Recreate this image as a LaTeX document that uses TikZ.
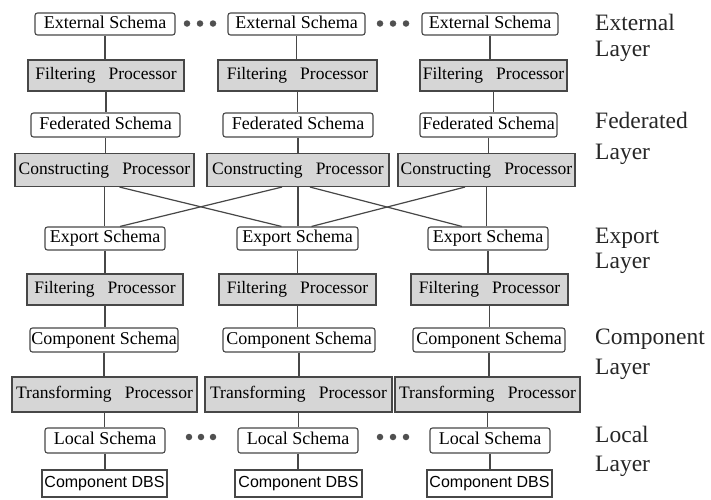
\documentclass[tikz,border=0pt]{standalone}
\usepackage{fontspec}
\setmainfont{Liberation Serif}
\newfontfamily\boxserif{Liberation Serif}
\newfontfamily\dbsfont{Liberation Sans}
\usetikzlibrary{calc}
\definecolor{edge}{HTML}{474747}
\definecolor{procfill}{HTML}{D6D6D6}
\definecolor{dotcol}{HTML}{505050}
% wider gap between the words of a processor name
\newcommand\procgap{\hspace{0.75em}}
\begin{document}
\begin{tikzpicture}[x=1pt,y=-1pt,
  box/.style={draw=edge, line width=1.1pt, inner sep=0pt, text height=12.5pt, text depth=4pt,
    font=\boxserif\fontsize{17.5}{20}\selectfont},
  schema/.style={box, fill=white, rounded corners=2.5pt, font=\boxserif\fontsize{18}{20}\selectfont},
  proc/.style={box, fill=procfill},
  dbs/.style={box, fill=white, font=\dbsfont\fontsize{16}{19}\selectfont},
  link/.style={draw=edge, line width=1.2pt},
  layer/.style={anchor=base west, inner sep=0pt, font=\boxserif\fontsize{23.5}{26}\selectfont, text=black!85},
  dot/.style={circle, fill=dotcol, inner sep=0pt, minimum size=6.5pt}
]
\fill[white] (0,0) rectangle (711,499);
\useasboundingbox (0,0) rectangle (711,499);

% external schemas
\node[schema, minimum width=140pt, minimum height=22pt] (es1) at (105,24) {External Schema};
\node[schema, minimum width=137pt, minimum height=22pt] (es2) at (296.5,24) {External Schema};
\node[schema, minimum width=136pt, minimum height=22pt] (es3) at (490,24) {External Schema};
% filtering processors (federated side)
\node[proc, minimum width=156pt, minimum height=31pt] (fpa1) at (106,75.5) {Filtering\procgap Processor};
\node[proc, minimum width=159pt, minimum height=31pt] (fpa2) at (297.5,75.5) {Filtering\procgap Processor};
\node[proc, minimum width=147pt, minimum height=31pt] (fpa3) at (493.5,75.5) {Filtering\procgap Processor};
% federated schemas
\node[schema, minimum width=149pt, minimum height=24pt] (fs1) at (105.5,125) {Federated Schema};
\node[schema, minimum width=150pt, minimum height=24pt] (fs2) at (298,125) {Federated Schema};
\node[schema, minimum width=137pt, minimum height=24pt] (fs3) at (488.5,125) {Federated Schema};
% constructing processors
\node[proc, minimum width=179pt, minimum height=33pt] (cp1) at (104.5,170) {Constructing\procgap Processor};
\node[proc, minimum width=182pt, minimum height=33pt] (cp2) at (298,170) {Constructing\procgap Processor};
\node[proc, minimum width=177pt, minimum height=33pt] (cp3) at (486.5,170) {Constructing\procgap Processor};
% export schemas
\node[schema, minimum width=120pt, minimum height=23pt] (xs1) at (105,238.5) {Export Schema};
\node[schema, minimum width=121pt, minimum height=23pt] (xs2) at (297.5,238.5) {Export Schema};
\node[schema, minimum width=120pt, minimum height=23pt] (xs3) at (488,238.5) {Export Schema};
% filtering processors (export side)
\node[proc, minimum width=156pt, minimum height=31pt] (fpb1) at (105,289.5) {Filtering\procgap Processor};
\node[proc, minimum width=157pt, minimum height=31pt] (fpb2) at (297.5,289.5) {Filtering\procgap Processor};
\node[proc, minimum width=157pt, minimum height=31pt] (fpb3) at (489.5,289.5) {Filtering\procgap Processor};
% component schemas
\node[schema, minimum width=148pt, minimum height=24pt] (cs1) at (104,340) {Component Schema};
\node[schema, minimum width=152pt, minimum height=24pt] (cs2) at (299,340) {Component Schema};
\node[schema, minimum width=152pt, minimum height=24pt] (cs3) at (489,340) {Component Schema};
% transforming processors
\node[proc, minimum width=185pt, minimum height=35pt] (tp1) at (104.5,394.5) {Transforming\procgap Processor};
\node[proc, minimum width=187pt, minimum height=35pt] (tp2) at (298.5,394.5) {Transforming\procgap Processor};
\node[proc, minimum width=185pt, minimum height=35pt] (tp3) at (487.5,394.5) {Transforming\procgap Processor};
% local schemas
\node[schema, minimum width=120pt, minimum height=25pt] (ls1) at (105,440.5) {Local Schema};
\node[schema, minimum width=120pt, minimum height=25pt] (ls2) at (298,440.5) {Local Schema};
\node[schema, minimum width=120pt, minimum height=25pt] (ls3) at (490,440.5) {Local Schema};
% component database systems
\node[dbs, minimum width=125pt, minimum height=27pt] (db1) at (104.5,483.5) {Component DBS};
\node[dbs, minimum width=127pt, minimum height=27pt] (db2) at (298.5,483.5) {Component DBS};
\node[dbs, minimum width=125pt, minimum height=27pt] (db3) at (489.5,483.5) {Component DBS};

% vertical chains in each column
\foreach \c in {1,2,3} {
  \draw[link] (es\c.south) -- (es\c.south |- fpa\c.north);
  \draw[link] (fpa\c.south) -- (fpa\c.south |- fs\c.north);
  \draw[link] (fs\c.south) -- (fs\c.south |- cp\c.north);
  \draw[link] (cp\c.south) -- (cp\c.south |- xs\c.north);
  \draw[link] (xs\c.south) -- (xs\c.south |- fpb\c.north);
  \draw[link] (fpb\c.south) -- (fpb\c.south |- cs\c.north);
  \draw[link] (cs\c.south) -- (cs\c.south |- tp\c.north);
  \draw[link] (tp\c.south) -- (tp\c.south |- ls\c.north);
  \draw[link] (ls\c.south) -- (ls\c.south |- db\c.north);
}

% cross links between constructing processors and export schemas
\draw[link] ($(cp1.south)+(15,0)$) -- ($(xs2.north)+(-16,0)$);
\draw[link] ($(cp2.south)+(-16,0)$) -- ($(xs1.north)+(15,0)$);
\draw[link] ($(cp2.south)+(12,0)$) -- ($(xs3.north)+(-26,0)$);
\draw[link] ($(cp3.south)+(-21.5,0)$) -- ($(xs2.north)+(14,0)$);

% ellipsis dots
\foreach \x [count=\i] in {187,200,213} \node[dot] (ea\i) at (\x,23.5) {};
\foreach \x [count=\i] in {380,393,406} \node[dot] (eb\i) at (\x,23.5) {};
\foreach \x [count=\i] in {189,201,213} \node[dot] (la\i) at (\x,437) {};
\foreach \x [count=\i] in {380,393,406} \node[dot] (lb\i) at (\x,437) {};

% layer captions
\node[layer] (lext)  at (595,30)  {External};
\node[layer] (lext2) at (595,56)  {Layer};
\node[layer] (lfed)  at (595,128) {Federated};
\node[layer] (lfed2) at (595,159) {Layer};
\node[layer] (lexp)  at (595,243) {Export};
\node[layer] (lexp2) at (595,268) {Layer};
\node[layer] (lcom)  at (595,344) {Component};
\node[layer] (lcom2) at (595,374) {Layer};
\node[layer] (lloc)  at (595,442) {Local};
\node[layer] (lloc2) at (595,471) {Layer};
\end{tikzpicture}
\end{document}
